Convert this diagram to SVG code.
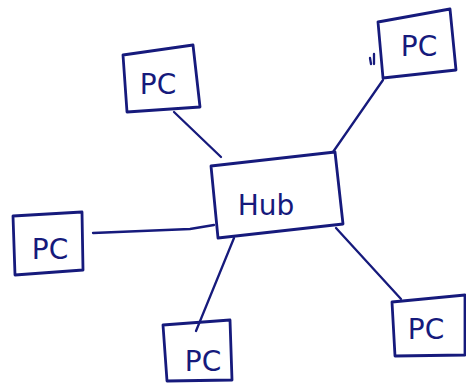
<svg xmlns="http://www.w3.org/2000/svg" width="466" height="385" viewBox="0 0 466 385">
  <style>
    .box { fill: none; stroke: #161a7c; stroke-width: 2.8; stroke-linejoin: round; }
    .wire { fill: none; stroke: #161a7c; stroke-width: 2.3; stroke-linecap: round; }
    .lbl { font-family: "DejaVu Sans", "Liberation Sans", sans-serif; fill: #161a7c; font-size: 28px; text-anchor: middle; }
  </style>
  <rect width="466" height="385" fill="#ffffff"/>

  <!-- links from each PC to the hub -->
  <g id="connectors">
    <path class="wire" d="M174,112 L221,157"/>
    <path class="wire" d="M383,80 L333,152"/>
    <path class="wire" d="M93,233 L190,229 L214,225"/>
    <path class="wire" d="M234,238 L196,331"/>
    <path class="wire" d="M336,228 L401,299"/>
    <path class="wire" d="M374,54 L374,64 M370,58 L371,64"/>
  </g>

  <g id="hub">
    <path class="box" d="M211,166 L335,152 L343,224 L218,238 Z"/>
    <text class="lbl" x="266" y="215" font-size="27">Hub</text>
  </g>

  <g id="pc-top-left">
    <path class="box" d="M123,55 L193,45 L200,107 L127,112 Z"/>
    <text class="lbl" x="158" y="94">PC</text>
  </g>

  <g id="pc-top-right">
    <path class="box" d="M378,22 L450,9 L456,70 L383,78 Z"/>
    <text class="lbl" x="419" y="56">PC</text>
  </g>

  <g id="pc-left">
    <path class="box" d="M13,216 L82,212 L83,270 L15,275 Z"/>
    <text class="lbl" x="50" y="259">PC</text>
  </g>

  <g id="pc-bottom">
    <path class="box" d="M163,325 L230,320 L232,380 L167,381 Z"/>
    <text class="lbl" x="203" y="371">PC</text>
  </g>

  <g id="pc-bottom-right">
    <path class="box" d="M392,302 L465,295 L465,355 L395,356 Z"/>
    <text class="lbl" x="426" y="339">PC</text>
  </g>
</svg>
